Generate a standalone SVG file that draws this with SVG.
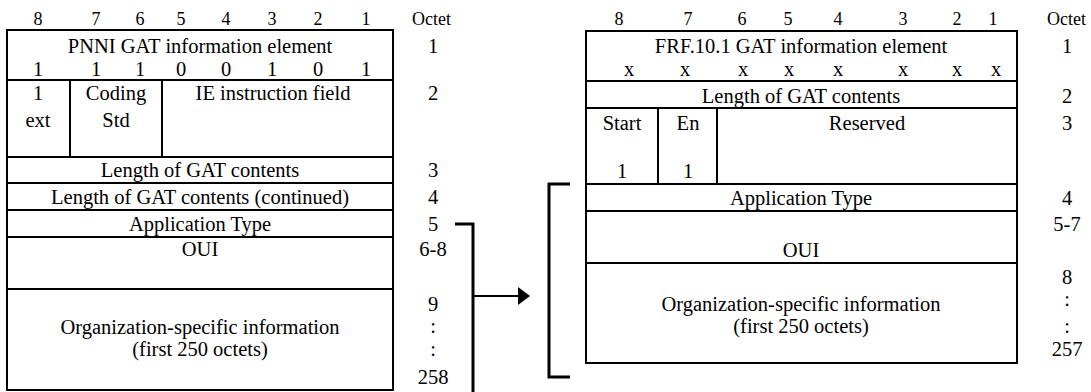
<svg xmlns="http://www.w3.org/2000/svg" width="1091" height="392" viewBox="0 0 1091 392" font-family="'Liberation Serif', 'Times New Roman', 'DejaVu Serif', serif">
<style>
text{font-family:'Liberation Serif','Times New Roman','DejaVu Serif',serif;font-size:20.5px;fill:#000;text-anchor:middle}
text.h{font-size:18px}
text.s{text-anchor:start}
.box{fill:#fff;stroke:#000;stroke-width:2}
.ln{stroke:#000;stroke-width:2;fill:none}
.br{stroke:#000;stroke-width:3;fill:none}
</style>
<rect width="1091" height="392" fill="#fff"/>
<g id="pnni-table">
<rect class="box" x="7" y="30" width="386" height="360"/>
<path class="ln" d="M7 80H393M7 157H393M7 183H393M7 210H393M7 237H393M7 289H393M70 80V157M162 80V157"/>
<text class="h" x="38" y="25">8</text><text class="h" x="96" y="25">7</text><text class="h" x="140" y="25">6</text><text class="h" x="181" y="25">5</text><text class="h" x="226" y="25">4</text><text class="h" x="272" y="25">3</text><text class="h" x="318" y="25">2</text><text class="h" x="366" y="25">1</text><text class="h s" x="412" y="25">Octet</text>
<text x="200" y="53">PNNI GAT information element</text>
<text x="38" y="76">1</text><text x="96" y="76">1</text><text x="140" y="76">1</text><text x="181" y="76">0</text><text x="226" y="76">0</text><text x="272" y="76">1</text><text x="318" y="76">0</text><text x="366" y="76">1</text>
<text x="38" y="100">1</text><text x="38" y="127">ext</text>
<text x="116" y="100">Coding</text><text x="116" y="127">Std</text>
<text x="273" y="100">IE instruction field</text>
<text x="200" y="177">Length of GAT contents</text>
<text x="200" y="204">Length of GAT contents (continued)</text>
<text x="200" y="231">Application Type</text>
<text x="200" y="256">OUI</text>
<text x="200" y="334">Organization-specific information</text>
<text x="200" y="356">(first 250 octets)</text>
<text x="433" y="53">1</text><text x="433" y="100">2</text><text x="433" y="177">3</text><text x="433" y="204">4</text><text x="433" y="231">5</text><text x="433" y="256">6-8</text><text x="433" y="311">9</text><text x="433" y="333">:</text><text x="433" y="356">:</text><text x="433" y="384">258</text>
</g>
<g id="frf-table">
<rect class="box" x="586" y="31" width="431" height="332"/>
<path class="ln" d="M586 81H1017M586 108H1017M586 184H1017M586 211H1017M586 263H1017M658 108V184M717 108V184"/>
<text class="h" x="619" y="25">8</text><text class="h" x="688" y="25">7</text><text class="h" x="742" y="25">6</text><text class="h" x="788" y="25">5</text><text class="h" x="838" y="25">4</text><text class="h" x="903" y="25">3</text><text class="h" x="957" y="25">2</text><text class="h" x="993" y="25">1</text><text class="h s" x="1047" y="25">Octet</text>
<text x="801" y="53">FRF.10.1 GAT information element</text>
<text x="629" y="76">x</text><text x="685" y="76">x</text><text x="743" y="76">x</text><text x="789" y="76">x</text><text x="838" y="76">x</text><text x="903" y="76">x</text><text x="957" y="76">x</text><text x="996" y="76">x</text>
<text x="801" y="103">Length of GAT contents</text>
<text x="622" y="130">Start</text><text x="688" y="130">En</text><text x="867" y="130">Reserved</text>
<text x="622" y="178">1</text><text x="688" y="178">1</text>
<text x="801" y="205">Application Type</text>
<text x="801" y="257">OUI</text>
<text x="801" y="311">Organization-specific information</text>
<text x="801" y="333">(first 250 octets)</text>
<text x="1067" y="53">1</text><text x="1067" y="103">2</text><text x="1067" y="130">3</text><text x="1067" y="205">4</text><text x="1067" y="231">5-7</text><text x="1067" y="284">8</text><text x="1067" y="306">:</text><text x="1067" y="333">:</text><text x="1067" y="356">257</text>
</g>
<g id="connectors">
<polyline class="br" points="455,224 473,224 473,392"/>
<line class="ln" x1="473" y1="296" x2="519" y2="296"/>
<polygon points="518,287 530,296 518,305" fill="#000"/>
<polyline class="br" points="570,184 549,184 549,377 570,377"/>
</g>
</svg>
